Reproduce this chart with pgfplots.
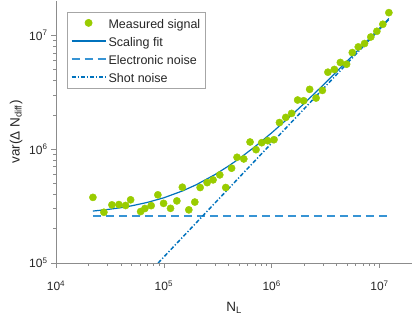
\documentclass[border=0pt]{standalone}
\usepackage{fontspec}
\setmainfont{Liberation Sans}
\usepackage{pgfplots}
\pgfplotsset{compat=1.18}
\definecolor{measgreen}{RGB}{153,204,0}
\definecolor{fitblue}{RGB}{0,114,189}
\definecolor{elblue}{RGB}{55,148,212}
\definecolor{txtgray}{RGB}{38,38,38}

\pgfplotsset{
  legimg/.style={legend image code/.code={
    \draw[mark repeat=2,mark phase=2,##1] plot coordinates {(0pt,0pt) (17pt,0pt) (34pt,0pt)};}},
}

\begin{document}
\begin{tikzpicture}
\begin{axis}[
    at={(0,0)}, anchor=south west,
    scale only axis,
    width=356pt, height=262pt,
    xmode=log, ymode=log,
    xmin=1e4, xmax=2e7, ymin=1e5, ymax=2e7,
    axis lines*=left,
    axis line style={black!45, line width=0.6pt},
    tick style={black!45, line width=0.6pt},
    tick align=outside,
    major tick length=5pt, minor tick length=3pt,
    xtick={1e4,1e5,1e6,1e7},
    xticklabels={10\textsuperscript{4},10\textsuperscript{5},10\textsuperscript{6},10\textsuperscript{7}},
    ytick={1e5,1e6,1e7},
    yticklabels={10\textsuperscript{5},10\textsuperscript{6},10\textsuperscript{7}},
    minor xtick={2e4,3e4,4e4,5e4,6e4,7e4,8e4,9e4,2e5,3e5,4e5,5e5,6e5,7e5,8e5,9e5,2e6,3e6,4e6,5e6,6e6,7e6,8e6,9e6},
    minor ytick={2e5,3e5,4e5,5e5,6e5,7e5,8e5,9e5,2e6,3e6,4e6,5e6,6e6,7e6,8e6,9e6},
    tick label style={font=\fontsize{12}{14}\selectfont, text=txtgray},
    xticklabel style={yshift=-9pt},
    xlabel={N\textsubscript{L}},
    xlabel style={yshift=-5pt},
    ylabel={var(Δ N\textsubscript{diff})},
    label style={font=\fontsize{13.5}{15}\selectfont, text=txtgray},
    legend cell align=left,
    legend style={at={(0.0317,0.959)}, anchor=north west,
        draw=black!35, line width=0.6pt, fill=white,
        font=\fontsize{12.5}{15}\selectfont, text=txtgray,
        inner xsep=3pt, inner ysep=3pt, row sep=2.4pt, column sep=0pt,
        nodes={inner xsep=2pt, inner ysep=1.5pt, text height=12pt, text depth=0.7pt}},
]
% measured points
\addplot[legimg, only marks, mark=*, mark size=3.6pt, color=measgreen, mark options={draw=measgreen, fill=measgreen}] coordinates {
(2.20e4,3.77e5) (2.78e4,2.79e5) (3.30e4,3.24e5) (3.83e4,3.26e5) (4.42e4,3.20e5)
(4.92e4,3.59e5) (6.09e4,2.83e5) (6.67e4,3.01e5) (7.63e4,3.19e5) (8.80e4,3.97e5)
(9.94e4,3.34e5) (1.153e5,3.02e5) (1.32e5,3.51e5) (1.484e5,4.63e5) (1.704e5,2.93e5)
(1.937e5,3.43e5) (2.17e5,4.60e5) (2.52e5,5.08e5) (2.86e5,5.37e5) (3.30e5,5.94e5)
(3.75e5,4.60e5) (4.25e5,6.80e5) (4.77e5,8.48e5) (5.51e5,8.20e5) (6.30e5,1.155e6)
(7.16e5,9.89e5) (8.08e5,1.139e6) (9.18e5,1.186e6) (1.05e6,1.21e6) (1.18e6,1.712e6)
(1.35e6,1.90e6) (1.53e6,2.06e6) (1.74e6,2.70e6) (1.98e6,2.66e6) (2.25e6,3.35e6)
(2.58e6,2.81e6) (2.95e6,3.28e6) (3.32e6,4.74e6) (3.81e6,5.01e6) (4.33e6,5.77e6)
(4.95e6,5.57e6) (5.59e6,7.05e6) (6.35e6,7.90e6) (7.26e6,8.46e6) (8.30e6,9.66e6)
(9.44e6,1.084e7) (1.073e7,1.249e7) (1.22e7,1.58e7)
};
\addlegendentry{Measured signal}
% scaling fit
\addplot[legimg, draw=fitblue, line width=1.2pt] coordinates {
(2.2e4,2.859e5) (3e4,2.949e5) (4e4,3.062e5) (5e4,3.175e5) (7e4,3.401e5)
(1e5,3.74e5) (1.5e5,4.305e5) (2e5,4.87e5) (3e5,6.0e5) (4e5,7.13e5)
(5e5,8.26e5) (7e5,1.052e6) (1e6,1.391e6) (1.5e6,1.956e6) (2e6,2.521e6)
(3e6,3.651e6) (5e6,5.911e6) (7e6,8.171e6) (1e7,1.1561e7) (1.22e7,1.4047e7)
};
\addlegendentry{Scaling fit}
% electronic noise
\addplot[legimg, draw=elblue, line width=2pt, dash pattern=on 8.5pt off 4.5pt] coordinates {
(2.2e4,2.61e5) (1.22e7,2.61e5)
};
\addlegendentry{Electronic noise}
% shot noise
\addplot[legimg, draw=fitblue, line width=1.5pt, dash pattern=on 4pt off 2pt on 1.2pt off 2pt] coordinates {
(8.85e4,1e5) (1.22e7,1.379e7)
};
\addlegendentry{Shot noise}
\end{axis}
\pgfresetboundingbox
\useasboundingbox (-56pt,-56.7pt) rectangle (359pt,263pt);
\end{tikzpicture}
\end{document}
